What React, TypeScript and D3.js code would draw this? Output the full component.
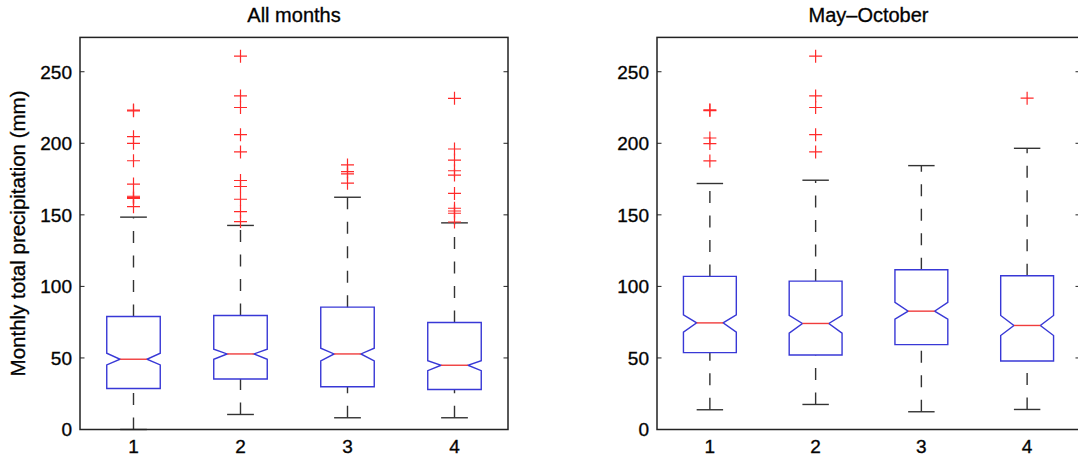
import React from "react";
import * as d3 from "d3";

// categories + tick labels
const categories = [1, 2, 3, 4];
const yTicks = [0, 50, 100, 150, 200, 250];

// All months (mm)
const allQ1 = [28.7, 35.3, 29.9, 28.0];
const allMedian = [49.1, 52.8, 52.8, 44.9];
const allQ3 = [79.0, 79.7, 85.5, 74.8];
const allNotchLo = [45.1, 49.1, 47.9, 41.1];
const allNotchHi = [53.3, 56.1, 56.8, 48.1];
const allWhiskerLo = [0, 10.5, 8.2, 8.2];
const allWhiskerHi = [148.4, 142.6, 162.3, 144.4];
const allOutliers = [
  [222.7, 223.2, 204.6, 200.0, 187.8, 171.5, 163.0, 162.2, 161.5, 155.7],
  [260.9, 233.1, 225.0, 206.0, 194.0, 174.0, 169.8, 160.9, 152.3, 145.3],
  [184.9, 180.2, 178.6, 172.1],
  [231.4, 196.0, 188.3, 180.8, 177.8, 165.0, 154.6, 152.7, 151.1, 145.0],
];

// May-October
const mayQ1 = [53.7, 52.1, 59.3, 47.9];
const mayMedian = [74.5, 74.1, 82.7, 72.7];
const mayQ3 = [107.0, 103.7, 111.6, 107.4];
const mayNotchLo = [68.0, 67.3, 77.1, 65.7];
const mayNotchHi = [80.1, 79.7, 88.8, 79.7];
const mayWhiskerLo = [13.8, 17.5, 12.4, 14.0];
const mayWhiskerHi = [171.9, 174.2, 184.4, 196.5];
const mayOutliers = [
  [223.4, 222.9, 203.7, 199.8, 187.7],
  [260.9, 233.1, 225.0, 206.0, 194.0],
  [],
  [231.5],
];

const FONT = "'Liberation Sans', Arial, Helvetica, sans-serif";
const BLUE = "#3838d6";
const RED = "#f03c3c";
const WHISK = "#333";
// the original text is a bit heavier than plain Liberation Sans
const textStyle = { fontFamily: FONT, stroke: "#111", strokeWidth: 0.35 };

type PanelProps = {
  title: string;
  left: number;
  right: number;
  q1: number[];
  median: number[];
  q3: number[];
  notchLo: number[];
  notchHi: number[];
  whiskerLo: number[];
  whiskerHi: number[];
  outliers: number[][];
  ylabel?: string;
};

const Panel = (p: PanelProps) => {
  const top = 37.4;
  const bottom = 429.5;
  const x = d3.scaleLinear().domain([0.5, 4.5]).range([p.left, p.right]);
  const y = d3.scaleLinear().domain([0, 274]).range([bottom, top]);
  const unit = x(1) - x(0);
  const hw = unit * 0.25;

  return (
    <g>
      <text x={(p.left + p.right) / 2} y={22} textAnchor="middle" fontSize={20} style={textStyle}>
        {p.title}
      </text>
      {p.ylabel && (
        <text
          transform={`translate(25,${(top + bottom) / 2}) rotate(-90)`}
          textAnchor="middle"
          fontSize={20.5}
          style={textStyle}
        >
          {p.ylabel}
        </text>
      )}
      {categories.map((c, i) => {
        const cx = x(c);
        const box = d3.path();
        box.moveTo(cx - hw, y(p.q1[i]));
        box.lineTo(cx - hw, y(p.notchLo[i]));
        box.lineTo(cx - hw / 2, y(p.median[i]));
        box.lineTo(cx - hw, y(p.notchHi[i]));
        box.lineTo(cx - hw, y(p.q3[i]));
        box.lineTo(cx + hw, y(p.q3[i]));
        box.lineTo(cx + hw, y(p.notchHi[i]));
        box.lineTo(cx + hw / 2, y(p.median[i]));
        box.lineTo(cx + hw, y(p.notchLo[i]));
        box.lineTo(cx + hw, y(p.q1[i]));
        box.closePath();
        return (
          <g key={c}>
            {/* whiskers drawn low -> high so dashes start where matlab starts them */}
            <line x1={cx} x2={cx} y1={y(p.whiskerLo[i])} y2={y(p.q1[i])} stroke={WHISK} strokeWidth={1.4} strokeDasharray="12,12.5" />
            <line x1={cx} x2={cx} y1={y(p.q3[i])} y2={y(p.whiskerHi[i])} stroke={WHISK} strokeWidth={1.4} strokeDasharray="12,12.5" />
            <line x1={cx - hw / 2} x2={cx + hw / 2} y1={y(p.whiskerLo[i])} y2={y(p.whiskerLo[i])} stroke={WHISK} strokeWidth={1.4} />
            <line x1={cx - hw / 2} x2={cx + hw / 2} y1={y(p.whiskerHi[i])} y2={y(p.whiskerHi[i])} stroke={WHISK} strokeWidth={1.4} />
            <path d={box.toString()} fill="none" stroke={BLUE} strokeWidth={1.4} />
            <line x1={cx - hw / 2} x2={cx + hw / 2} y1={y(p.median[i])} y2={y(p.median[i])} stroke={RED} strokeWidth={1.4} />
            {p.outliers[i].map((v, j) => (
              <path
                key={j}
                d={`M${cx - 6.5},${y(v)}H${cx + 6.5}M${cx},${y(v) - 6.5}V${y(v) + 6.5}`}
                stroke="#ff2a2a"
                strokeWidth={1.2}
                fill="none"
              />
            ))}
          </g>
        );
      })}
      <rect x={p.left} y={top} width={p.right - p.left} height={bottom - top} fill="none" stroke="#222" strokeWidth={1.5} />
      {yTicks.map((t) => (
        <g key={t}>
          <line x1={p.left} x2={p.left + 4.5} y1={y(t)} y2={y(t)} stroke="#222" strokeWidth={1} />
          <line x1={p.right} x2={p.right - 4.5} y1={y(t)} y2={y(t)} stroke="#222" strokeWidth={1} />
          <text x={p.left - 8} y={y(t)} dy="0.36em" textAnchor="end" fontSize={19} style={textStyle}>
            {t}
          </text>
        </g>
      ))}
      {categories.map((c) => (
        <text key={c} x={x(c)} y={453} textAnchor="middle" fontSize={19} style={textStyle}>
          {c}
        </text>
      ))}
    </g>
  );
};

export default function App() {
  return (
    <svg width={1078} height={459} style={{ position: "absolute", left: 0, top: 0, background: "#fff" }}>
      <rect width={1078} height={459} fill="#fff" />
      <Panel
        title="All months"
        left={80}
        right={508}
        q1={allQ1}
        median={allMedian}
        q3={allQ3}
        notchLo={allNotchLo}
        notchHi={allNotchHi}
        whiskerLo={allWhiskerLo}
        whiskerHi={allWhiskerHi}
        outliers={allOutliers}
        ylabel="Monthly total precipitation (mm)"
      />
      <Panel
        title="May–October"
        left={657}
        right={1080}
        q1={mayQ1}
        median={mayMedian}
        q3={mayQ3}
        notchLo={mayNotchLo}
        notchHi={mayNotchHi}
        whiskerLo={mayWhiskerLo}
        whiskerHi={mayWhiskerHi}
        outliers={mayOutliers}
      />
    </svg>
  );
}
